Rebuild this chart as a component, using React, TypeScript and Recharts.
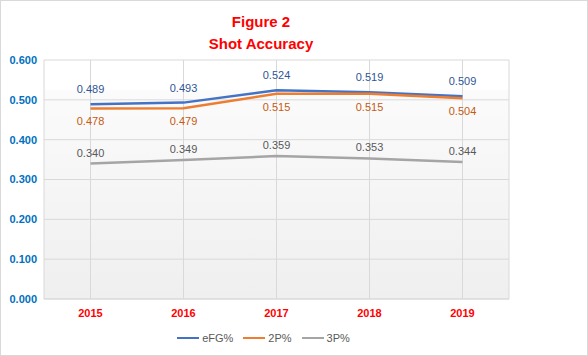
import { CartesianGrid, LabelList, Line, LineChart, XAxis, YAxis } from 'recharts';

const years = ['2015', '2016', '2017', '2018', '2019'];
const efg = [0.489, 0.493, 0.524, 0.519, 0.509];
const twoP = [0.478, 0.479, 0.515, 0.515, 0.504];
const threeP = [0.34, 0.349, 0.359, 0.353, 0.344];
const yTicks = [0, 0.1, 0.2, 0.3, 0.4, 0.5, 0.6];

const FONT = '"Liberation Sans", Arial, sans-serif';

const series = [
  { key: 'efg', name: 'eFG%', stroke: '#4472C4', label: '#2F5597', pos: 'top', offset: 11 },
  { key: 'twoP', name: '2P%', stroke: '#ED7D31', label: '#C55A11', pos: 'bottom', offset: 9 },
  { key: 'threeP', name: '3P%', stroke: '#A5A5A5', label: '#595959', pos: 'top', offset: 7 },
] as const;

const data = years.map((y, i) => ({
  year: y,
  efg: efg[i],
  twoP: twoP[i],
  threeP: threeP[i],
}));

const fmt = (v: number) => v.toFixed(3);

export default function App() {
  return (
    <div
      style={{
        position: 'fixed',
        left: 0,
        top: 0,
        width: 588,
        height: 356,
        background: '#fff',
        fontFamily: FONT,
      }}
    >
      <div
        style={{
          position: 'absolute',
          left: 0,
          top: 11,
          width: 522,
          textAlign: 'center',
          color: '#FF0000',
          fontWeight: 700,
          fontSize: 15,
          lineHeight: '22px',
        }}
      >
        Figure 2
        <br />
        Shot Accuracy
      </div>

      <LineChart
        width={588}
        height={356}
        data={data}
        margin={{ top: 60, right: 79, left: 0, bottom: 27 }}
      >
        <defs>
          <linearGradient id="plotBg" x1="0" y1="0" x2="0" y2="1">
            <stop offset="0%" stopColor="#ffffff" />
            <stop offset="12%" stopColor="#ffffff" />
            <stop offset="13%" stopColor="#fbfbfb" />
            <stop offset="100%" stopColor="#efefef" />
          </linearGradient>
        </defs>
        <CartesianGrid stroke="#d9d9d9" fill="url(#plotBg)" />
        <XAxis
          dataKey="year"
          padding={{ left: 46.5, right: 46.5 }}
          height={30}
          tickSize={0}
          tickMargin={10}
          axisLine={{ stroke: '#d9d9d9' }}
          tick={{ fontSize: 11, fontWeight: 700, fill: '#FF0000', fontFamily: FONT }}
        />
        <YAxis
          width={44}
          domain={[0, 0.6]}
          ticks={yTicks}
          tickFormatter={fmt}
          axisLine={false}
          tickLine={false}
          tickSize={0}
          tickMargin={7}
          tick={{ fontSize: 11, fontWeight: 700, fill: '#0070C0', fontFamily: FONT }}
        />
        {series.map((s) => (
          <Line
            key={s.key}
            dataKey={s.key}
            name={s.name}
            stroke={s.stroke}
            strokeWidth={2.5}
            dot={false}
            activeDot={false}
            type="linear"
            isAnimationActive={false}
          >
            <LabelList
              dataKey={s.key}
              position={s.pos}
              offset={s.offset}
              formatter={(v: any) => fmt(Number(v))}
              style={{ fontSize: 11, fill: s.label, fontFamily: FONT }}
            />
          </Line>
        ))}
      </LineChart>

      <div
        style={{
          position: 'absolute',
          left: 0,
          top: 331,
          width: 527,
          display: 'flex',
          justifyContent: 'center',
          gap: 10,
          fontSize: 11,
          color: '#595959',
          lineHeight: '14px',
        }}
      >
        {series.map((s) => (
          <div key={s.key} style={{ display: 'flex', alignItems: 'center', gap: 3 }}>
            <span style={{ display: 'inline-block', width: 22, height: 2.5, background: s.stroke }} />
            <span>{s.name}</span>
          </div>
        ))}
      </div>

      <div
        style={{
          position: 'absolute',
          inset: 0,
          border: '1px solid #d9d9d9',
          pointerEvents: 'none',
        }}
      />
    </div>
  );
}
